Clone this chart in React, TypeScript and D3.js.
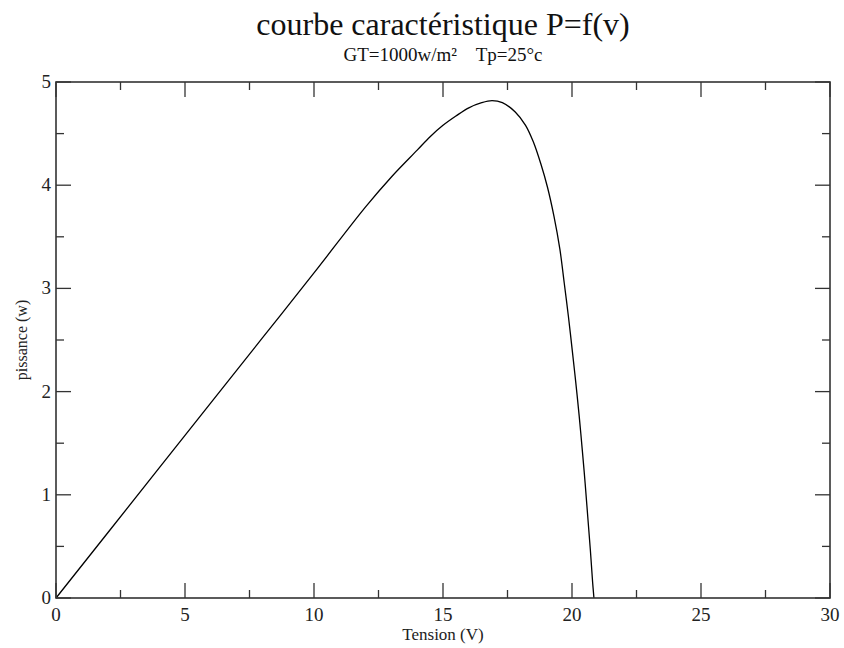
import React from "react";
import * as d3 from "d3";

const voltage = [0, 2, 4, 6, 8, 10, 12, 13, 14, 14.5, 15, 15.5, 16, 16.5, 16.9, 17.3, 17.8, 18.2, 18.5, 18.8, 19.05, 19.3, 19.53, 19.7, 19.86, 20.01, 20.15, 20.28, 20.4, 20.51, 20.61, 20.71, 20.8, 20.85];
const power = [0, 0.63, 1.26, 1.89, 2.52, 3.15, 3.79, 4.08, 4.34, 4.47, 4.58, 4.67, 4.75, 4.8, 4.82, 4.8, 4.71, 4.58, 4.42, 4.2, 3.98, 3.7, 3.38, 3.05, 2.73, 2.4, 2.08, 1.76, 1.43, 1.11, 0.79, 0.47, 0.15, 0];
const xTicks = [0, 5, 10, 15, 20, 25, 30];
const yTicks = [0, 1, 2, 3, 4, 5];
const xMinor = [2.5, 7.5, 12.5, 17.5, 22.5, 27.5];
const yMinor = [0.5, 1.5, 2.5, 3.5, 4.5];

const W = 844, H = 648;
const L = 56, R = 830, T = 82, B = 598;
const font = "'Liberation Serif', 'DejaVu Serif', serif";

export default function App() {
  const x = d3.scaleLinear().domain([0, 30]).range([L, R]);
  const y = d3.scaleLinear().domain([0, 5]).range([B, T]);
  const pts = voltage.map((v, i) => [v, power[i]] as [number, number]);
  const line = d3.line<[number, number]>().x(d => x(d[0])).y(d => y(d[1])).curve(d3.curveCatmullRom.alpha(0.5));
  const axisColor = "#333";
  const major = 15, minor = 8;
  return (
    <svg width={W} height={H} style={{ position: "absolute", left: 0, top: 0, background: "#fff" }}>
      <rect x={0} y={0} width={W} height={H} fill="#fff" />
      <text x={(L + R) / 2} y={35} textAnchor="middle" style={{ fontFamily: font }} fontSize={32} fill="#111">courbe caractéristique P=f(v)</text>
      <text x={(L + R) / 2} y={61} textAnchor="middle" fontFamily={font} fontSize={19} fill="#111" style={{ whiteSpace: "pre", fontFamily: font }}>{"GT=1000w/m²    Tp=25°c"}</text>
      <path d={line(pts) ?? ""} fill="none" stroke="#000" strokeWidth={1.3} />
      <rect x={L} y={T} width={R - L} height={B - T} fill="none" stroke={axisColor} strokeWidth={1.6} />
      {xTicks.map(t => (
        <g key={"xt" + t}>
          <line x1={x(t)} x2={x(t)} y1={B} y2={B - major} stroke={axisColor} strokeWidth={1.3} />
          <line x1={x(t)} x2={x(t)} y1={T} y2={T + major} stroke={axisColor} strokeWidth={1.3} />
          <text x={x(t)} y={621} textAnchor="middle" fontFamily={font} fontSize={19} fill="#222">{t}</text>
        </g>
      ))}
      {xMinor.map(t => (
        <g key={"xm" + t}>
          <line x1={x(t)} x2={x(t)} y1={B} y2={B - minor} stroke={axisColor} strokeWidth={1.3} />
          <line x1={x(t)} x2={x(t)} y1={T} y2={T + minor} stroke={axisColor} strokeWidth={1.3} />
        </g>
      ))}
      {yTicks.map(t => (
        <g key={"yt" + t}>
          <line x1={L} x2={L + major} y1={y(t)} y2={y(t)} stroke={axisColor} strokeWidth={1.3} />
          <line x1={R} x2={R - major} y1={y(t)} y2={y(t)} stroke={axisColor} strokeWidth={1.3} />
          <text x={L - 5} y={y(t) + 6} textAnchor="end" fontFamily={font} fontSize={19} fill="#222">{t}</text>
        </g>
      ))}
      {yMinor.map(t => (
        <g key={"ym" + t}>
          <line x1={L} x2={L + minor} y1={y(t)} y2={y(t)} stroke={axisColor} strokeWidth={1.3} />
          <line x1={R} x2={R - minor} y1={y(t)} y2={y(t)} stroke={axisColor} strokeWidth={1.3} />
        </g>
      ))}
      <text x={(L + R) / 2} y={640} textAnchor="middle" fontFamily={font} fontSize={17} fill="#222">Tension (V)</text>
      <text transform={`translate(27, ${(T + B) / 2}) rotate(-90)`} textAnchor="middle" fontFamily={font} fontSize={16} fill="#222">pissance (w)</text>
    </svg>
  );
}
